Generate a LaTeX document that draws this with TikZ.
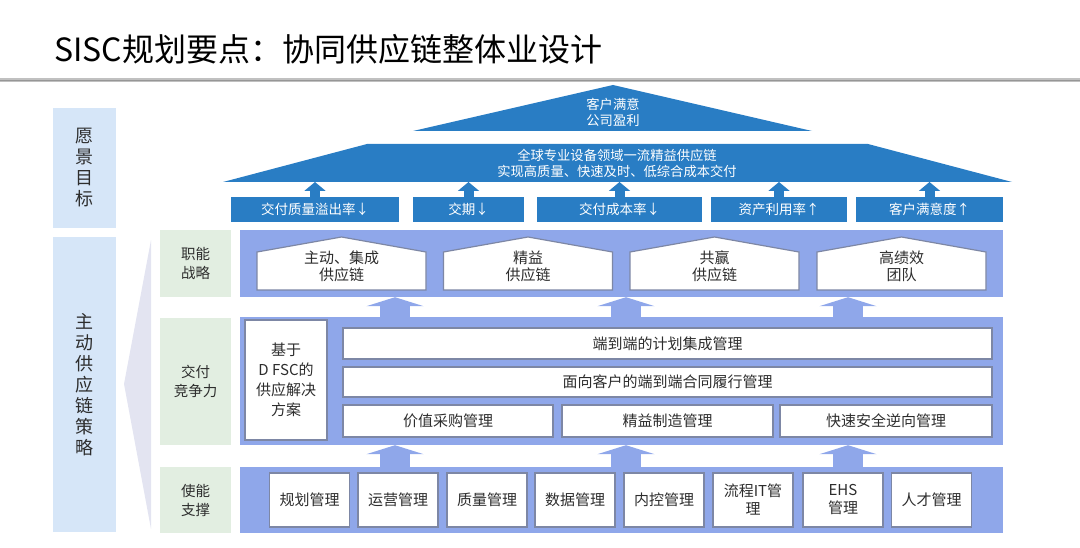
\documentclass[tikz,border=0pt]{standalone}
\usepackage{fontspec}
\setmainfont{Noto Sans CJK SC}
\usetikzlibrary{arrows.meta,positioning,calc}

\definecolor{roofblue}{RGB}{41,125,196}
\definecolor{panelblue}{RGB}{143,167,234}
\definecolor{sideblue}{RGB}{214,230,248}
\definecolor{labelgreen}{RGB}{226,238,225}
\definecolor{fangray}{RGB}{227,228,241}
\definecolor{boxline}{RGB}{125,135,165}
\definecolor{txtgray}{RGB}{45,45,45}
\definecolor{rulegray}{RGB}{150,150,150}

\begin{document}
\begin{tikzpicture}[
    x=1pt, y=-1pt,
    every node/.style={align=center, inner sep=0pt, text=txtgray},
    sidebox/.style={fill=sideblue, minimum width=63pt, font=\fontsize{18}{21}\selectfont},
    rowlabel/.style={fill=labelgreen, minimum width=71pt, font=\fontsize{14.5}{19}\selectfont},
    panel/.style={fill=panelblue, minimum width=763pt},
    whitebox/.style={fill=white, draw=boxline, line width=1.2pt, font=\fontsize{15}{18}\selectfont},
    kpibox/.style={fill=roofblue, text=white, minimum height=25pt, font=\fontsize{13.5}{16}\selectfont},
    rooftext/.style={text=white, font=\fontsize{13.3}{16.5}\selectfont},
    housetext/.style={font=\fontsize{15}{17}\selectfont},
    houseline/.style={fill=white, draw=boxline, line width=1.2pt},
    kpiarrow/.style={draw=roofblue, line width=10pt, -{Triangle[length=9pt, width=21pt]}},
    rowarrow/.style={draw=panelblue, line width=30pt, -{Triangle[length=9pt, width=57pt]}}
]
\useasboundingbox (0,0) rectangle (1080,548);

% -------------------------------------------------
% TITLE
% -------------------------------------------------
\node[anchor=west, text=black, font=\fontsize{32}{36}\selectfont] (title) at (54,49) {SISC规划要点：协同供应链整体业设计};
\draw[rulegray!60, line width=3.5pt] (0,80) -- (1080,80);
\draw[rulegray, line width=1.5pt] (0,80.5) -- (1080,80.5);

% -------------------------------------------------
% LEFT COLUMN
% -------------------------------------------------
\node[sidebox, minimum height=120pt] (vision) at (84,168) {愿\\景\\目\\标};
\node[sidebox, minimum height=295pt] (strategy) at (84,384.5) {主\\动\\供\\应\\链\\策\\略};

% fan towards the three rows
\fill[fangray] (124,384) -- (151,240) -- (151,529) -- cycle;

% row labels
\node[rowlabel, minimum height=67pt] (lfunc) at (195.5,263.5) {职能\\战略};
\node[rowlabel, minimum height=127pt] (ldel) at (195.5,381.5) {交付\\竞争力};
\node[rowlabel, minimum height=66pt] (lenab) at (195.5,500) {使能\\支撑};

% =================================================
% ROOF
% =================================================
\fill[roofblue] (413,131) -- (613,85) -- (812,131) -- cycle;
\fill[roofblue] (223,182) -- (367,144) -- (868,144) -- (1012,182) -- cycle;
\coordinate (roofbase) at (617,182);

\node[rooftext] (goal) at (613,112.5) {客户满意\\公司盈利};
\node[rooftext] (target) at (617,163.5) {全球专业设备领域一流精益供应链\\实现高质量、快速及时、低综合成本交付};

% kpi boxes
\node[kpibox, minimum width=168pt] (k1) at (315,209.5) {交付质量溢出率↓};
\node[kpibox, minimum width=111pt] (k2) at (468.5,209.5) {交期↓};
\node[kpibox, minimum width=165pt] (k3) at (619.5,209.5) {交付成本率↓};
\node[kpibox, minimum width=136pt] (k4) at (779,209.5) {资产利用率↑};
\node[kpibox, minimum width=147pt] (k5) at (929.5,209.5) {客户满意度↑};

\foreach \k in {k1,k2,k3,k4,k5}
    \draw[kpiarrow] (\k.north) -- (\k.north |- roofbase);

% =================================================
% FUNCTIONAL STRATEGY
% =================================================
\node[panel, minimum height=67pt] (pfunc) at (621.5,263.5) {};

\foreach \hx in {341.5,528,714.5,901.5}
    \draw[houseline] (\hx-84.5,290) -- (\hx-84.5,252) -- (\hx,237)
        -- (\hx+84.5,252) -- (\hx+84.5,290) -- cycle;

\node[housetext] (h1) at (341.5,266.5) {主动、集成\\供应链};
\node[housetext] (h2) at (528,266.5) {精益\\供应链};
\node[housetext] (h3) at (714.5,266.5) {共赢\\供应链};
\node[housetext] (h4) at (901.5,266.5) {高绩效\\团队};

% =================================================
% DELIVERY COMPETITIVENESS
% =================================================
\node[panel, minimum height=128pt] (pdel) at (621.5,381) {};

\node[whitebox, minimum width=82pt, minimum height=120pt, font=\fontsize{15}{20}\selectfont] (dfsc) at (286,380) {基于\\D FSC的\\供应解决\\方案};

\node[whitebox, minimum width=649pt, minimum height=31pt] (b1) at (667.5,343.5) {端到端的计划集成管理};
\node[whitebox, minimum width=649pt, minimum height=30pt] (b2) at (667.5,382) {面向客户的端到端合同履行管理};
\node[whitebox, minimum width=210pt, minimum height=32pt] (b3) at (448,421) {价值采购管理};
\node[whitebox, minimum width=211pt, minimum height=32pt] (b4) at (667.5,421) {精益制造管理};
\node[whitebox, minimum width=212pt, minimum height=32pt] (b5) at (886,421) {快速安全逆向管理};

% =================================================
% ENABLING SUPPORT
% =================================================
\node[panel, minimum height=66pt] (penab) at (621.5,500) {};

\foreach \ex/\i/\txt in {309.5/1/规划管理, 398/2/运营管理, 487/3/质量管理, 575/4/数据管理,
        664/5/内控管理, 753/6/{流程IT管\\理}, 843/7/{EHS\\管理}, 931.5/8/人才管理}
    \node[whitebox, minimum width=80pt, minimum height=54pt] (e\i) at (\ex,500) {\txt};

% arrows between rows
\foreach \ax in {395,626,848} {
    \draw[rowarrow] (\ax,0 |- pdel.north) -- (\ax,0 |- pfunc.south);
    \draw[rowarrow] (\ax,0 |- penab.north) -- (\ax,0 |- pdel.south);
}

\end{tikzpicture}
\end{document}
